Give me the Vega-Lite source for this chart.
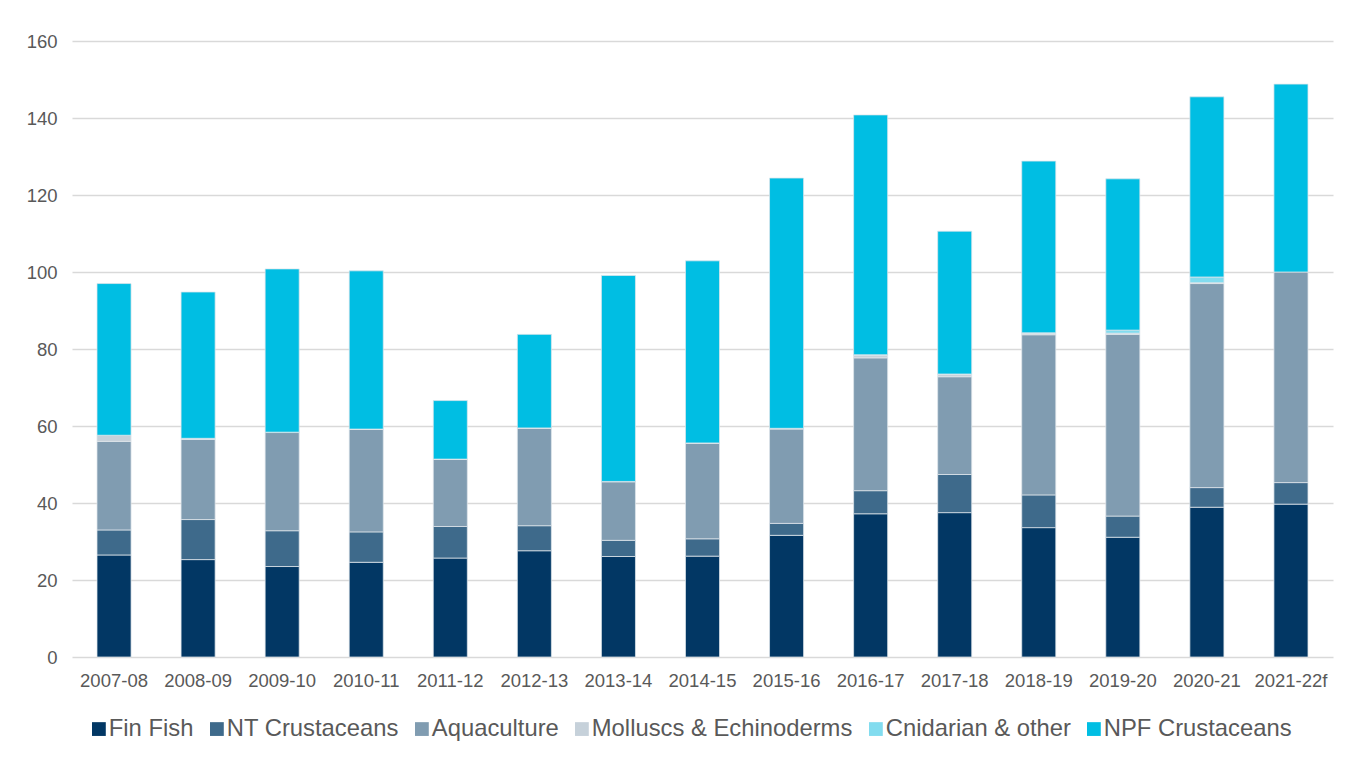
{
  "$schema": "https://vega.github.io/schema/vega-lite/v6.json",
  "width": 1261,
  "height": 616,
  "autosize": {"type": "none"},
  "padding": {"left": 72, "top": 41, "right": 19, "bottom": 101},
  "background": "white",
  "config": {
    "font": "Liberation Sans",
    "view": {"stroke": null},
    "axis": {"labelColor": "#595959", "labelFontSize": 18.5, "domain": false, "ticks": false, "title": null}
  },
  "data": {"values": [
    {"year":"2007-08","category":"Fin Fish","value":26.5},
    {"year":"2007-08","category":"NT Crustaceans","value":6.5},
    {"year":"2007-08","category":"Aquaculture","value":23.0},
    {"year":"2007-08","category":"Molluscs & Echinoderms","value":1.6},
    {"year":"2007-08","category":"NPF Crustaceans","value":39.4},
    {"year":"2008-09","category":"Fin Fish","value":25.3},
    {"year":"2008-09","category":"NT Crustaceans","value":10.4},
    {"year":"2008-09","category":"Aquaculture","value":20.8},
    {"year":"2008-09","category":"Molluscs & Echinoderms","value":0.3},
    {"year":"2008-09","category":"NPF Crustaceans","value":38.0},
    {"year":"2009-10","category":"Fin Fish","value":23.5},
    {"year":"2009-10","category":"NT Crustaceans","value":9.3},
    {"year":"2009-10","category":"Aquaculture","value":25.5},
    {"year":"2009-10","category":"Molluscs & Echinoderms","value":0.1},
    {"year":"2009-10","category":"NPF Crustaceans","value":42.4},
    {"year":"2010-11","category":"Fin Fish","value":24.6},
    {"year":"2010-11","category":"NT Crustaceans","value":7.9},
    {"year":"2010-11","category":"Aquaculture","value":26.6},
    {"year":"2010-11","category":"Molluscs & Echinoderms","value":0.1},
    {"year":"2010-11","category":"NPF Crustaceans","value":41.1},
    {"year":"2011-12","category":"Fin Fish","value":25.7},
    {"year":"2011-12","category":"NT Crustaceans","value":8.2},
    {"year":"2011-12","category":"Aquaculture","value":17.4},
    {"year":"2011-12","category":"Molluscs & Echinoderms","value":0.1},
    {"year":"2011-12","category":"NPF Crustaceans","value":15.2},
    {"year":"2012-13","category":"Fin Fish","value":27.6},
    {"year":"2012-13","category":"NT Crustaceans","value":6.5},
    {"year":"2012-13","category":"Aquaculture","value":25.3},
    {"year":"2012-13","category":"Molluscs & Echinoderms","value":0.1},
    {"year":"2012-13","category":"NPF Crustaceans","value":24.3},
    {"year":"2013-14","category":"Fin Fish","value":26.1},
    {"year":"2013-14","category":"NT Crustaceans","value":4.2},
    {"year":"2013-14","category":"Aquaculture","value":15.2},
    {"year":"2013-14","category":"Molluscs & Echinoderms","value":0.1},
    {"year":"2013-14","category":"NPF Crustaceans","value":53.5},
    {"year":"2014-15","category":"Fin Fish","value":26.2},
    {"year":"2014-15","category":"NT Crustaceans","value":4.5},
    {"year":"2014-15","category":"Aquaculture","value":24.8},
    {"year":"2014-15","category":"Molluscs & Echinoderms","value":0.1},
    {"year":"2014-15","category":"NPF Crustaceans","value":47.3},
    {"year":"2015-16","category":"Fin Fish","value":31.6},
    {"year":"2015-16","category":"NT Crustaceans","value":3.1},
    {"year":"2015-16","category":"Aquaculture","value":24.5},
    {"year":"2015-16","category":"Molluscs & Echinoderms","value":0.2},
    {"year":"2015-16","category":"NPF Crustaceans","value":65.0},
    {"year":"2016-17","category":"Fin Fish","value":37.2},
    {"year":"2016-17","category":"NT Crustaceans","value":6.0},
    {"year":"2016-17","category":"Aquaculture","value":34.5},
    {"year":"2016-17","category":"Molluscs & Echinoderms","value":0.7},
    {"year":"2016-17","category":"Cnidarian & other","value":0.1},
    {"year":"2016-17","category":"NPF Crustaceans","value":62.3},
    {"year":"2017-18","category":"Fin Fish","value":37.5},
    {"year":"2017-18","category":"NT Crustaceans","value":9.9},
    {"year":"2017-18","category":"Aquaculture","value":25.4},
    {"year":"2017-18","category":"Molluscs & Echinoderms","value":0.6},
    {"year":"2017-18","category":"Cnidarian & other","value":0.1},
    {"year":"2017-18","category":"NPF Crustaceans","value":37.1},
    {"year":"2018-19","category":"Fin Fish","value":33.6},
    {"year":"2018-19","category":"NT Crustaceans","value":8.5},
    {"year":"2018-19","category":"Aquaculture","value":41.6},
    {"year":"2018-19","category":"Molluscs & Echinoderms","value":0.4},
    {"year":"2018-19","category":"Cnidarian & other","value":0.1},
    {"year":"2018-19","category":"NPF Crustaceans","value":44.6},
    {"year":"2019-20","category":"Fin Fish","value":31.1},
    {"year":"2019-20","category":"NT Crustaceans","value":5.5},
    {"year":"2019-20","category":"Aquaculture","value":47.2},
    {"year":"2019-20","category":"Molluscs & Echinoderms","value":0.3},
    {"year":"2019-20","category":"Cnidarian & other","value":0.8},
    {"year":"2019-20","category":"NPF Crustaceans","value":39.3},
    {"year":"2020-21","category":"Fin Fish","value":38.9},
    {"year":"2020-21","category":"NT Crustaceans","value":5.1},
    {"year":"2020-21","category":"Aquaculture","value":53.0},
    {"year":"2020-21","category":"Molluscs & Echinoderms","value":0.2},
    {"year":"2020-21","category":"Cnidarian & other","value":1.5},
    {"year":"2020-21","category":"NPF Crustaceans","value":46.8},
    {"year":"2021-22f","category":"Fin Fish","value":39.7},
    {"year":"2021-22f","category":"NT Crustaceans","value":5.6},
    {"year":"2021-22f","category":"Aquaculture","value":54.7},
    {"year":"2021-22f","category":"NPF Crustaceans","value":48.8}
  ]},
  "transform": [
    {"calculate": "indexof(['Fin Fish', 'NT Crustaceans', 'Aquaculture', 'Molluscs & Echinoderms', 'Cnidarian & other', 'NPF Crustaceans'], datum.category)", "as": "stackRank"}
  ],
  "mark": {"type": "bar", "stroke": "#dfe5eb", "strokeWidth": 0.75},
  "encoding": {
    "x": {
      "field": "year", "type": "nominal", "sort": null,
      "scale": {"paddingInner": 0.595, "paddingOuter": 0.2975},
      "axis": {"labelAngle": 0, "labelPadding": 14, "grid": false}
    },
    "y": {
      "field": "value", "type": "quantitative",
      "scale": {"domain": [0, 160], "nice": false},
      "axis": {"values": [0, 20, 40, 60, 80, 100, 120, 140, 160], "labelPadding": 15, "gridColor": "#d9d9d9", "gridWidth": 1.3}
    },
    "color": {
      "field": "category", "type": "nominal",
      "sort": ["Fin Fish", "NT Crustaceans", "Aquaculture", "Molluscs & Echinoderms", "Cnidarian & other", "NPF Crustaceans"],
      "scale": {
        "domain": ["Fin Fish", "NT Crustaceans", "Aquaculture", "Molluscs & Echinoderms", "Cnidarian & other", "NPF Crustaceans"],
        "range": ["#023764", "#3e6a8b", "#809cb1", "#c6d1da", "#82dcef", "#00bee3"]
      },
      "legend": {
        "title": null, "orient": "none", "direction": "horizontal", "columns": 6,
        "legendX": 15, "legendY": 676,
        "symbolType": "square", "symbolSize": 190, "symbolStrokeWidth": 0,
        "labelFontSize": 23.8, "labelColor": "#595959", "labelOffset": -2,
        "columnPadding": 11, "labelLimit": 400
      }
    },
    "order": {"field": "stackRank", "type": "quantitative", "sort": "ascending"}
  }
}
